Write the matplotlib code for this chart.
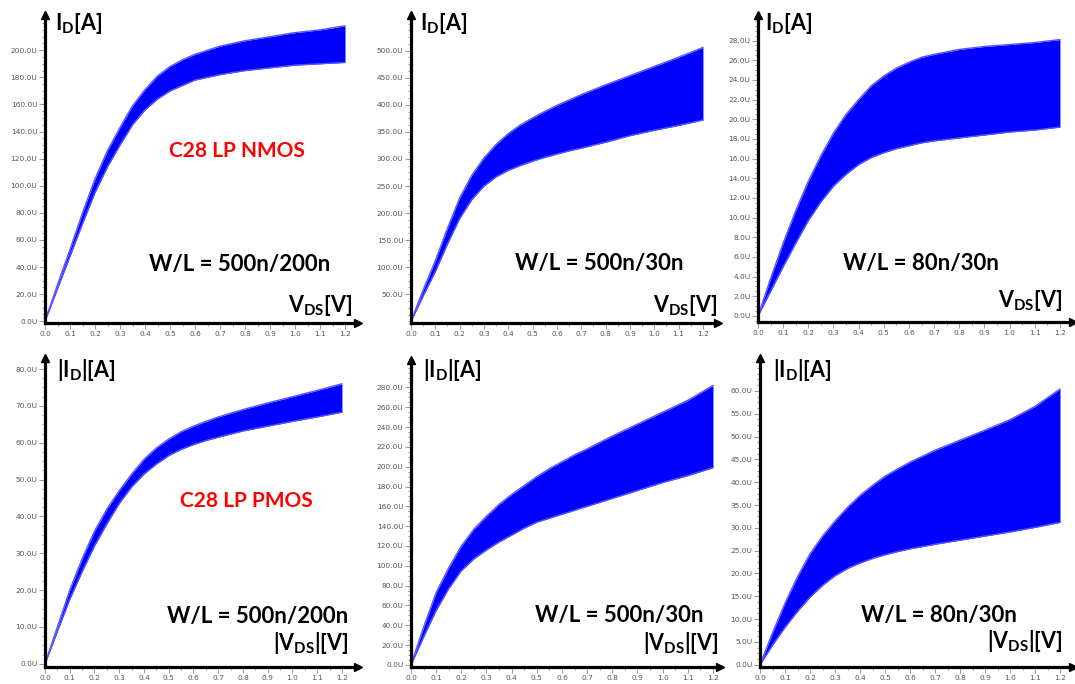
import matplotlib
matplotlib.use("Agg")
import matplotlib.pyplot as plt
import numpy as np
from matplotlib.ticker import FuncFormatter, MultipleLocator, AutoMinorLocator

plt.rcParams['mathtext.fontset'] = 'custom'
plt.rcParams['mathtext.rm'] = 'Lato:bold'
plt.rcParams['mathtext.it'] = 'Lato:bold'

W, H = 1075, 684

# Vds sweep points (V)
vds = [0.0, 0.05, 0.1, 0.15, 0.2, 0.25, 0.3, 0.35, 0.4, 0.45, 0.5, 0.55, 0.6, 0.65, 0.7,
       0.8, 0.9, 1.0, 1.1, 1.2]

# Monte Carlo envelopes, drain current in uA (upper / lower edge of the band)
nmos_200_hi = [0, 27, 53, 80, 105, 126, 143, 159, 171, 181, 188, 193, 197, 200, 203, 207, 210, 213, 215, 218]
nmos_200_lo = [0, 24, 48, 72, 95, 114, 130, 145, 156, 164, 170, 174, 178, 180, 182, 185, 187, 189, 190, 191]
nmos_30_hi = [0, 58, 112, 172, 228, 270, 302, 327, 347, 363, 376, 388, 399, 409, 419, 437, 454, 471, 488, 506]
nmos_30_lo = [0, 47, 92, 143, 190, 225, 250, 267, 279, 288, 296, 303, 309, 315, 320, 331, 343, 353, 362, 372]
nmos_80_hi = [0, 3.8, 7.4, 10.7, 13.7, 16.3, 18.6, 20.5, 22.0, 23.4, 24.4, 25.2, 25.8, 26.3, 26.6,
              27.1, 27.4, 27.6, 27.8, 28.1]
nmos_80_lo = [0, 2.5, 5.0, 7.4, 9.7, 11.6, 13.2, 14.4, 15.4, 16.1, 16.6, 17.0, 17.3, 17.6, 17.8,
              18.1, 18.4, 18.7, 18.9, 19.2]
pmos_200_hi = [0, 10, 20, 28.5, 36, 42, 47, 51.5, 55.5, 58.6, 61, 63, 64.5, 65.8, 67, 69, 70.8, 72.5, 74.2, 76]
pmos_200_lo = [0, 8.8, 17.5, 25, 32, 38, 43.5, 48, 51.5, 54.2, 56.5, 58.2, 59.5, 60.6, 61.5,
               63.2, 64.5, 65.8, 67.0, 68.3]
pmos_30_hi = [0, 38, 73, 98, 120, 137, 150, 162, 172, 181, 190, 198, 205, 212, 218, 231, 243, 255, 267, 282]
pmos_30_lo = [0, 28, 55, 77, 95, 107, 116, 124, 131, 138, 144, 148, 152, 156, 160, 168, 176, 184, 191, 199]
pmos_80_hi = [0, 7, 13.5, 19.3, 24.3, 28.2, 31.5, 34.5, 37.1, 39.3, 41.3, 42.9, 44.4, 45.7, 47,
              49.2, 51.4, 53.7, 56.6, 60.4]
pmos_80_lo = [0, 4.3, 8.2, 11.7, 14.8, 17.4, 19.5, 21.1, 22.3, 23.3, 24.1, 24.8, 25.4, 25.9, 26.4,
              27.3, 28.2, 29.1, 30.1, 31.2]

sizes = ['W/L = 500n/200n', 'W/L = 500n/30n', 'W/L = 80n/30n']

# panel frames in pixels: left, x-axis y, right arrow tip, top arrow tip, xmax, ymin, ymax, tick step, first/last tick
panels = [
    (45, 323, 358, 15, 1.252, -1.3, 226, 20, 0, 200, nmos_200_hi, nmos_200_lo),
    (411, 323, 718, 15, 1.262, -3.1, 566, 50, 50, 500, nmos_30_hi, nmos_30_lo),
    (758, 322, 1073, 15, 1.252, -0.62, 30.6, 2, 0, 28, nmos_80_hi, nmos_80_lo),
    (45, 667, 358, 358, 1.265, -0.87, 83.0, 10, 0, 80, pmos_200_hi, pmos_200_lo),
    (411, 667, 720, 360, 1.228, -2.2, 307.7, 20, 0, 280, pmos_30_hi, pmos_30_lo),
    (760, 667, 1073, 358, 1.252, -0.48, 67.2, 5, 0, 60, pmos_80_hi, pmos_80_lo),
]

fig = plt.figure(figsize=(W / 100, H / 100), dpi=100)


def fx(x):
    return x / W


def fy(y):
    return 1 - y / H


for l, b, r, t, xmax, ymin, ymax, step, y0, y1, hi, lo in panels:
    ax = fig.add_axes([fx(l), fy(b), (r - l) / W, (b - t) / H])
    ax.fill_between(vds, lo, hi, color='#0000ff', lw=0)
    ax.plot(vds, hi, color='#5555ff', lw=1.0)
    ax.plot(vds, lo, color='#5555ff', lw=1.0)
    ax.set_xlim(0, xmax)
    ax.set_ylim(ymin, ymax)
    for s in ['top', 'right']:
        ax.spines[s].set_visible(False)
    for s in ['left', 'bottom']:
        ax.spines[s].set_linewidth(2.3)
    ax.plot(1, 0, '>k', ms=6, transform=ax.transAxes, clip_on=False)
    ax.plot(0, 1, '^k', ms=6, transform=ax.transAxes, clip_on=False)
    ax.set_xticks(np.arange(0, 1.21, 0.1))
    ax.xaxis.set_minor_locator(MultipleLocator(0.05))
    ax.xaxis.set_major_formatter(FuncFormatter(lambda v, p: f"{v:.1f}"))
    ax.set_yticks(np.arange(y0, y1 + step / 2, step))
    ax.yaxis.set_minor_locator(AutoMinorLocator(4))
    ax.yaxis.set_major_formatter(FuncFormatter(lambda v, p: f"{v:.1f}U"))
    ax.tick_params(which='both', colors='#888888', labelcolor='#555555', labelsize=5.3, width=0.6)
    ax.tick_params(which='major', length=4, pad=1.5)
    ax.tick_params(which='minor', length=2.5)
    ax.patch.set_alpha(0)

lab = dict(fontsize=15.5, family='Lato', weight='bold', color='black')
big = dict(fontsize=16, family='Lato', weight='bold', color='black')

# y-axis labels
for x, y in [(55, 30), (420, 30), (765, 30)]:
    fig.text(fx(x), fy(y), r'$\mathrm{I_D}$[A]', ha='left', va='baseline', **lab)
for x, y in [(57, 377), (423, 377), (773, 377)]:
    fig.text(fx(x), fy(y), r'|$\mathrm{I_D}$|[A]', ha='left', va='baseline', **lab)

# x-axis labels
for x, y in [(352, 312), (717, 312), (1062, 307)]:
    fig.text(fx(x), fy(y), r'$\mathrm{V_{DS}}$[V]', ha='right', va='baseline', **lab)
for x, y in [(348, 650), (718, 650), (1062, 648)]:
    fig.text(fx(x), fy(y), r'|$\mathrm{V_{DS}}$|[V]', ha='right', va='baseline', **lab)

# device sizes
for (x, y), s in zip([(240, 271), (599, 270), (921, 270)], sizes):
    fig.text(fx(x), fy(y), s, ha='center', va='baseline', **big)
for (x, y), s in zip([(258, 623), (619, 622), (939, 622)], sizes):
    fig.text(fx(x), fy(y), s, ha='center', va='baseline', **big)

red = dict(fontsize=15, family='Lato', weight='bold', color='#ff0000')
fig.text(fx(237), fy(157), 'C28 LP NMOS', ha='center', va='baseline', **red)
fig.text(fx(246), fy(507), 'C28 LP PMOS', ha='center', va='baseline', **red)

fig.savefig('out.png', dpi=100)
